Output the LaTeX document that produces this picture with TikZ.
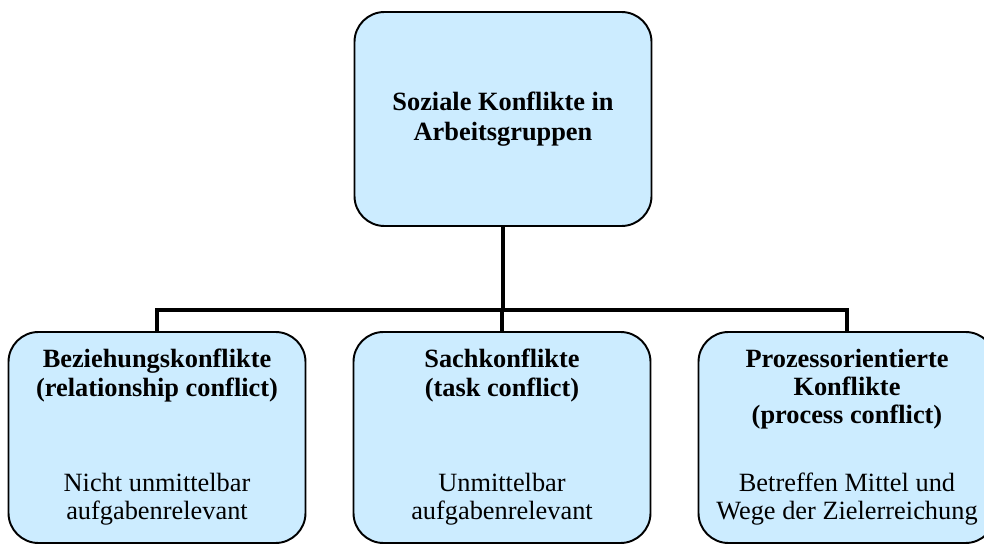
\documentclass[tikz,border=0pt]{standalone}
\usepackage{fontspec}
\setmainfont{Liberation Serif}
\usetikzlibrary{positioning}
\definecolor{boxblue}{HTML}{CCECFF}
\begin{document}
\begin{tikzpicture}
    \tikzstyle{box}=[draw=black, line width=1.1pt, fill=boxblue, rounded corners=0.6cm, minimum width=5.94cm, minimum height=4.22cm, inner sep=0pt]
    \tikzstyle{txt}=[align=center, inner sep=0pt, font=\fontsize{15}{16}\selectfont]
    \tikzstyle{link}=[line width=2.8pt]
    \useasboundingbox (0,0) rectangle (19.68,10.9);
    \node[box, minimum height=4.28cm] (top) at (10.06,8.52) {};
    \node[txt, font=\fontsize{15}{17}\selectfont\bfseries] (topt) at (top) {Soziale Konflikte in\\Arbeitsgruppen};
    \node[box] (b1) at (3.14,2.15) {};
    \node[box] (b2) at (10.04,2.15) {};
    \node[box] (b3) at (16.94,2.15) {};
    \node[txt, font=\fontsize{15}{16}\selectfont\bfseries, below=0.36cm of b1.north] (b1t) {Beziehungskonflikte\\(relationship conflict)};
    \node[txt, font=\fontsize{15}{16}\selectfont\bfseries, below=0.36cm of b2.north] (b2t) {Sachkonflikte\\(task conflict)};
    \node[txt, font=\fontsize{15}{16}\selectfont\bfseries, below=0.36cm of b3.north] (b3t) {Prozessorientierte\\Konflikte\\(process conflict)};
    \node[txt, above=0.36cm of b1.south] (b1d) {Nicht unmittelbar\\aufgabenrelevant};
    \node[txt, above=0.36cm of b2.south] (b2d) {Unmittelbar\\aufgabenrelevant};
    \node[txt, above=0.36cm of b3.south] (b3d) {Betreffen Mittel und\\Wege der Zielerreichung};
    \coordinate (j) at (10.04,4.7);
    \draw[link] (top.south) -- (top.south |- j);
    \draw[link] (b1.north) |- (j) -| (b3.north);
    \draw[link] (j) -- (b2.north);
  \end{tikzpicture}
\end{document}
